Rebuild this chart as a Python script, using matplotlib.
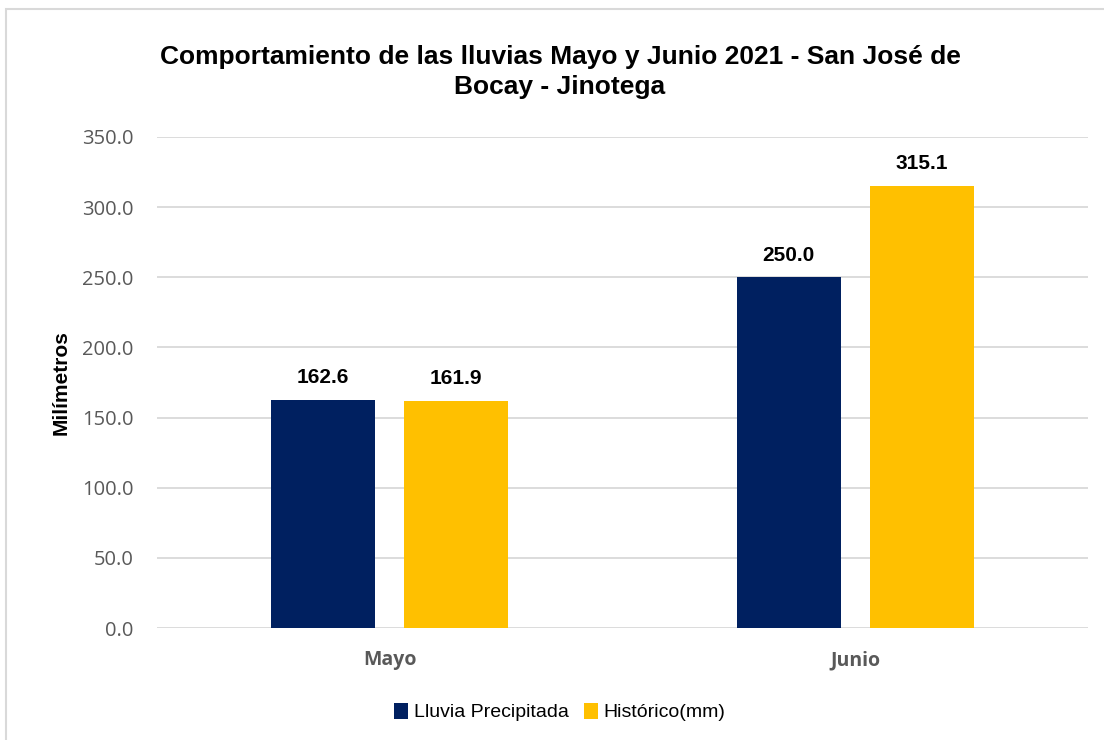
import matplotlib
matplotlib.use("Agg")
import matplotlib.pyplot as plt
from matplotlib.patches import Rectangle
from matplotlib import font_manager as fm

categories = ["Mayo", "Junio"]
series_names = ["Lluvia Precipitada", "Histórico(mm)"]
lluvia = [162.6, 250.0]
historico = [161.9, 315.1]
yticks = [0, 50, 100, 150, 200, 250, 300, 350]

names = {f.name for f in fm.fontManager.ttflist}
narrow = "Liberation Sans Narrow" if "Liberation Sans Narrow" in names else "Liberation Sans"
tickfont = "Open Sans"

W, H = 1104, 740
fig = plt.figure(figsize=(W / 100, H / 100), dpi=100)
fig.patch.set_facecolor("white")

# outer border
fig.patches.append(Rectangle((6 / W, -0.1), 1.2, 1 - 9 / H + 0.1, transform=fig.transFigure,
                             fill=False, edgecolor="#d9d9d9", linewidth=1.5))

ax = fig.add_axes([157 / W, 1 - 628 / H, (1088 - 157) / W, (628 - 137) / H])
colors = ["#002060", "#FFC000"]
x = list(range(len(categories)))
off = 0.143
bw = 0.224
b1 = ax.bar([i - off for i in x], lluvia, width=bw, color=colors[0], label=series_names[0], zorder=3)
b2 = ax.bar([i + off for i in x], historico, width=bw, color=colors[1], label=series_names[1], zorder=3)

for bars, vals in ((b1, lluvia), (b2, historico)):
    for r, v in zip(bars, vals):
        ax.text(r.get_x() + r.get_width() / 2, v + 9, f"{v:.1f}", ha="center", va="bottom",
                fontsize=15, fontweight="bold", family=narrow, color="black")

ax.set_xlim(-0.5, 1.5)
ax.set_ylim(0, 350)
ax.set_yticks(yticks)
ax.set_yticklabels([f"{t:.1f}" for t in yticks], family=tickfont, fontsize=14.5, color="#595959")
ax.set_xticks(x)
ax.set_xticklabels(categories, family=tickfont, fontsize=14, fontweight="bold", color="#595959")
ax.tick_params(axis="both", length=0)
ax.tick_params(axis="y", pad=17)
ax.tick_params(axis="x", pad=16)
ax.grid(axis="y", color="#d9d9d9", linewidth=1.3, zorder=0)
for s in ax.spines.values():
    s.set_visible(False)

ax.set_ylabel("Milímetros", family=narrow, fontsize=15, fontweight="bold", color="black", labelpad=8)

fig.text(560 / W, 1 - 72 / H, "Comportamiento de las lluvias Mayo y Junio 2021 - San José de\nBocay - Jinotega",
         ha="center", va="center", fontsize=19, fontweight="bold", family=narrow, linespacing=1.3)

leg = fig.legend(handles=[b1, b2], labels=series_names, loc="center", bbox_to_anchor=(560 / W, 1 - 712 / H),
                 ncol=2, frameon=False, prop={"family": narrow, "size": 14}, handlelength=0.7,
                 handleheight=0.9, handletextpad=0.3, columnspacing=0.8)

fig.savefig("out.png", dpi=100, facecolor="white")
